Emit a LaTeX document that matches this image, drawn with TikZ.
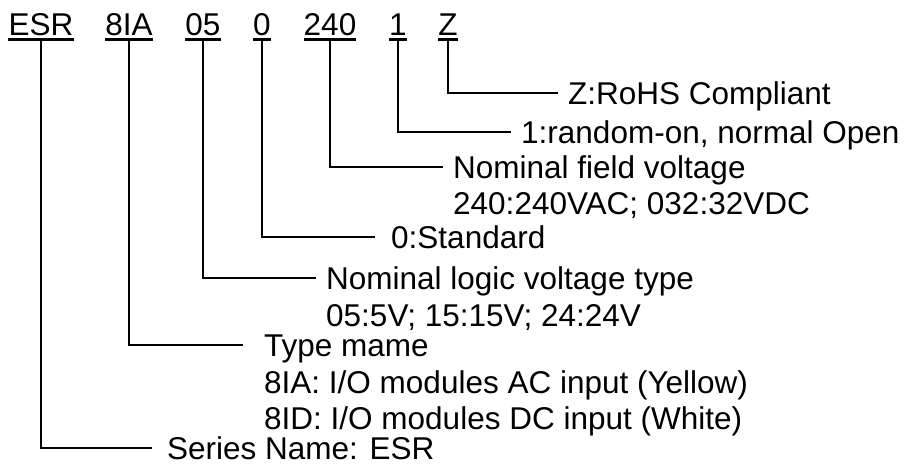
\documentclass[tikz,border=0pt]{standalone}
\usepackage{fontspec}
\setmainfont{Liberation Sans}
\usetikzlibrary{positioning}

\tikzset{
  code/.style={anchor=base, inner sep=0pt, font=\fontsize{31.5}{36}\selectfont},
  lbl/.style={anchor=west, inner xsep=10pt, inner ysep=0pt, text height=22.6pt, text depth=0pt, font=\fontsize{31.5}{36}\selectfont},
  sub/.style={anchor=base west, inner xsep=10pt, inner ysep=0pt, font=\fontsize{31.5}{36}\selectfont},
  uline/.style={line width=2.4pt},
  lead/.style={line width=1.2pt}
}

\begin{document}
\begin{tikzpicture}[x=1pt, y=1pt]
  \useasboundingbox (0,0) rectangle (905,-467);
  % code fields
  \node[code] (esr) at (41,-35) {ESR};
  \node[code] (type) at (129,-35) {8IA};
  \node[code] (logic) at (203,-35) {05};
  \node[code] (std) at (262,-35) {0};
  \node[code] (field) at (330,-35) {240};
  \node[code] (mode) at (398,-35) {1};
  \node[code] (rohs) at (448,-35) {Z};
  % underlines
  \foreach \f in {esr, type, logic, std, field, mode, rohs}
    \draw[uline] ([yshift=-4.3pt]\f.base west) -- ([yshift=-4.3pt]\f.base east);
  % descriptions
  \node[lbl] (rohslbl) at (558,-93) {Z:RoHS Compliant};
  \node[lbl] (modelbl) at (511,-132) {1:random-on, normal Open};
  \node[lbl] (fieldlbl) at (443,-167) {Nominal field voltage};
  \node[sub] (fieldsub) at ([yshift=-36pt]fieldlbl.base west) {240:240VAC; 032:32VDC};
  \node[lbl, inner xsep=16pt] (stdlbl) at (375,-237) {0:Standard};
  \node[lbl] (logiclbl) at (316,-278) {Nominal logic voltage type};
  \node[sub] (logicsub) at ([yshift=-37pt]logiclbl.base west) {05:5V; 15:15V; 24:24V};
  \node[lbl, inner xsep=21pt] (typelbl) at (243,-345) {Type mame};
  \node[sub, inner xsep=21pt] (typesub) at ([yshift=-37pt]typelbl.base west) {8IA: I/O modules AC input (Yellow)};
  \node[sub, inner xsep=21pt] (typesubb) at ([yshift=-36pt]typesub.base west) {8ID: I/O modules DC input (White)};
  \node[lbl, inner xsep=15pt] (esrlbl) at (152,-448) {Series Name: ESR};
  % leaders
  \draw[lead] ([yshift=-4.3pt]rohs.base) |- (rohslbl.west);
  \draw[lead] ([yshift=-4.3pt]mode.base) |- (modelbl.west);
  \draw[lead] ([yshift=-4.3pt]field.base) |- (fieldlbl.west);
  \draw[lead] ([yshift=-4.3pt]std.base) |- (stdlbl.west);
  \draw[lead] ([yshift=-4.3pt]logic.base) |- (logiclbl.west);
  \draw[lead] ([yshift=-4.3pt]type.base) |- (typelbl.west);
  \draw[lead] ([yshift=-4.3pt]esr.base) |- (esrlbl.west);
\end{tikzpicture}
\end{document}
